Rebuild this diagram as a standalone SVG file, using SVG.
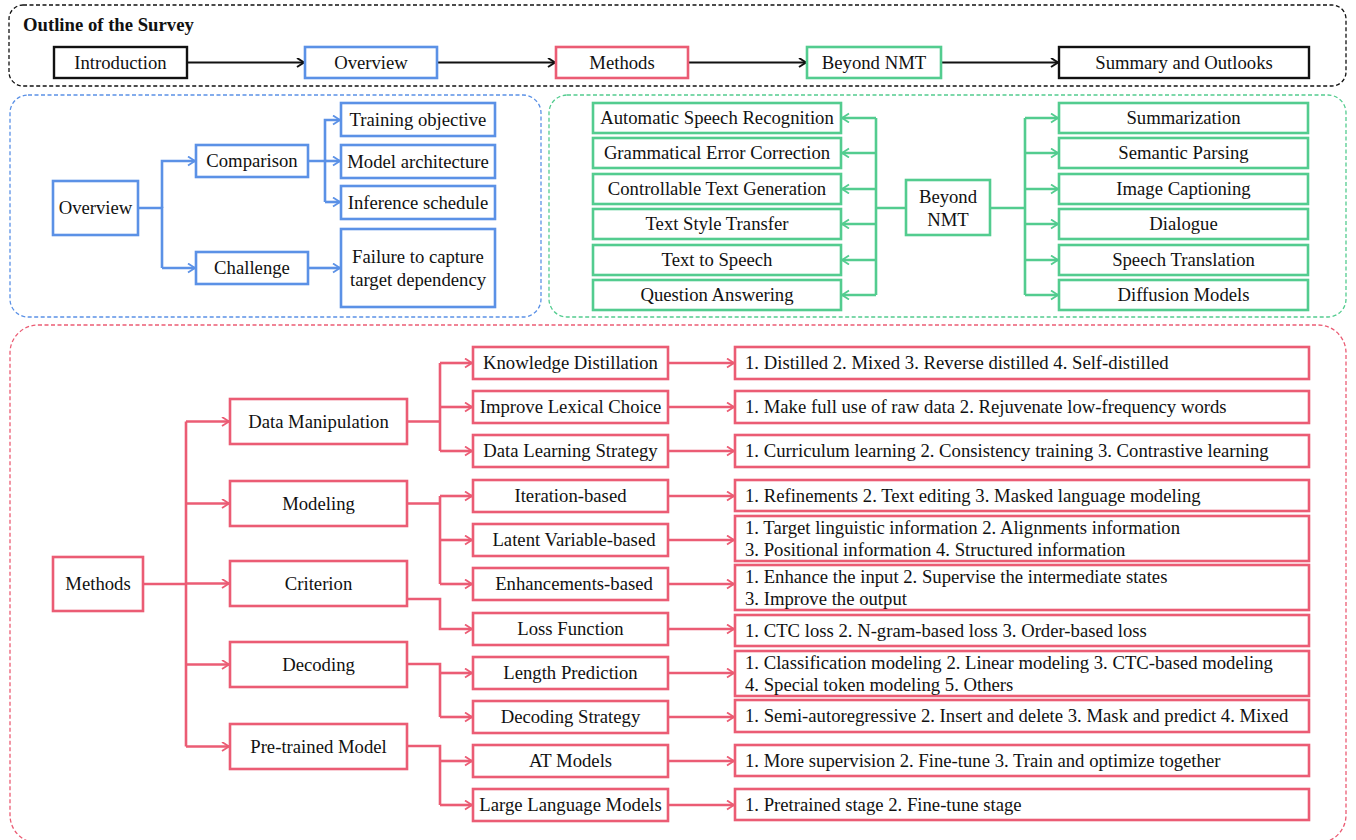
<svg xmlns="http://www.w3.org/2000/svg" width="1356" height="840" viewBox="0 0 1356 840">
<style>
text{font-family:"Liberation Serif","Times New Roman",serif;font-size:18.7px;fill:#111}
.t{font-weight:bold}
.m{text-anchor:middle}
.reg{fill:none;stroke-width:1.3;stroke-dasharray:4 2.5}
.k{fill:#fff;stroke:#111;stroke-width:2.4}
.b{fill:#fff;stroke:#5b91e6;stroke-width:2.6}
.g{fill:#fff;stroke:#53cc8f;stroke-width:2.6}
.p{fill:#fff;stroke:#eb5c74;stroke-width:2.6}
.ck{fill:none;stroke:#111;stroke-width:2.2;marker-end:url(#ak)}
.cb{fill:none;stroke:#5b91e6;stroke-width:2.6}
.cg{fill:none;stroke:#53cc8f;stroke-width:2.6}
.cp{fill:none;stroke:#eb5c74;stroke-width:2.6}
.ab{marker-end:url(#ab)}
.ag{marker-end:url(#ag)}
.ap{marker-end:url(#ap)}
</style>
<defs>
<marker id="ak" markerUnits="userSpaceOnUse" markerWidth="12" markerHeight="12" refX="9" refY="5" orient="auto"><path d="M2,0.5 L9,5 L2,9.5" fill="none" stroke="#111" stroke-width="2"/></marker>
<marker id="ab" markerUnits="userSpaceOnUse" markerWidth="12" markerHeight="12" refX="9" refY="5" orient="auto"><path d="M2,0.5 L9,5 L2,9.5" fill="none" stroke="#5b91e6" stroke-width="1.8"/></marker>
<marker id="ag" markerUnits="userSpaceOnUse" markerWidth="12" markerHeight="12" refX="9" refY="5" orient="auto"><path d="M2,0.5 L9,5 L2,9.5" fill="none" stroke="#53cc8f" stroke-width="1.8"/></marker>
<marker id="ap" markerUnits="userSpaceOnUse" markerWidth="12" markerHeight="12" refX="9" refY="5" orient="auto"><path d="M2,0.5 L9,5 L2,9.5" fill="none" stroke="#eb5c74" stroke-width="1.8"/></marker>
</defs>
<rect width="1356" height="840" fill="#fff"/>

<g id="regions">
<rect class="reg" x="9" y="5" width="1337" height="81" rx="14" stroke="#111"/>
<rect class="reg" x="10" y="95" width="531" height="222" rx="18" stroke="#5b91e6"/>
<rect class="reg" x="549" y="95" width="797" height="222" rx="18" stroke="#53cc8f"/>
<rect class="reg" x="10" y="325" width="1336" height="518" rx="28" stroke="#eb5c74"/>
</g>
<text class="t" x="23" y="31">Outline of the Survey</text>

<g id="connectors">
<path class="ck" d="M187,62.5 H304"/>
<path class="ck" d="M437,62.5 H555"/>
<path class="ck" d="M688,62.5 H806"/>
<path class="ck" d="M941,62.5 H1058"/>

<path class="cb" d="M138,208 H162 V268"/>
<path class="cb ab" d="M162,208 V161 H195"/>
<path class="cb ab" d="M162,268 H195"/>
<path class="cb" d="M308,161 H325 V202"/>
<path class="cb ab" d="M325,161 V120 H340"/>
<path class="cb ab" d="M325,161 H340"/>
<path class="cb ab" d="M325,202 H340"/>
<path class="cb ab" d="M308,268 H340"/>

<path class="cg" d="M906,208 H876 M876,118 V295 M990,208 H1025 M1025,118 V295"/>
<path class="cg ag" d="M876,118 H842"/>
<path class="cg ag" d="M876,153 H842"/>
<path class="cg ag" d="M876,189 H842"/>
<path class="cg ag" d="M876,224 H842"/>
<path class="cg ag" d="M876,260 H842"/>
<path class="cg ag" d="M876,295 H842"/>
<path class="cg ag" d="M1025,118 H1058"/>
<path class="cg ag" d="M1025,153 H1058"/>
<path class="cg ag" d="M1025,189 H1058"/>
<path class="cg ag" d="M1025,224 H1058"/>
<path class="cg ag" d="M1025,260 H1058"/>
<path class="cg ag" d="M1025,295 H1058"/>

<path class="cp" d="M143,584 H186 M186,421.5 V746.5"/>
<path class="cp ap" d="M186,421.5 H229"/>
<path class="cp ap" d="M186,503.5 H229"/>
<path class="cp ap" d="M186,583.5 H229"/>
<path class="cp ap" d="M186,664.5 H229"/>
<path class="cp ap" d="M186,746.5 H229"/>

<path class="cp" d="M407,421.5 H440 M440,363 V451"/>
<path class="cp ap" d="M440,363 H472"/>
<path class="cp ap" d="M440,407 H472"/>
<path class="cp ap" d="M440,451 H472"/>
<path class="cp" d="M407,503.5 H440 M440,496 V584"/>
<path class="cp ap" d="M440,496 H472"/>
<path class="cp ap" d="M440,540 H472"/>
<path class="cp ap" d="M440,584 H472"/>
<path class="cp ap" d="M407,599 H440 V629 H472"/>
<path class="cp" d="M407,664 H440 V717"/>
<path class="cp ap" d="M440,673 H472"/>
<path class="cp ap" d="M440,717 H472"/>
<path class="cp" d="M407,746 H440 V805"/>
<path class="cp ap" d="M440,761 H472"/>
<path class="cp ap" d="M440,805 H472"/>

<path class="cp ap" d="M668,363 H734"/>
<path class="cp ap" d="M668,407 H734"/>
<path class="cp ap" d="M668,451 H734"/>
<path class="cp ap" d="M668,496 H734"/>
<path class="cp ap" d="M668,540 H734"/>
<path class="cp ap" d="M668,584 H734"/>
<path class="cp ap" d="M668,629 H734"/>
<path class="cp ap" d="M668,673 H734"/>
<path class="cp ap" d="M668,717 H734"/>
<path class="cp ap" d="M668,761 H734"/>
<path class="cp ap" d="M668,805 H734"/>
</g>

<g id="n-introduction"><rect class="k" x="54" y="47" width="133" height="31"/><text class="m" x="120.5" y="69">Introduction</text></g>
<g id="n-overview-top"><rect class="b" x="305" y="47" width="132" height="31"/><text class="m" x="371" y="69">Overview</text></g>
<g id="n-methods-top"><rect class="p" x="556" y="47" width="132" height="31"/><text class="m" x="622" y="69">Methods</text></g>
<g id="n-beyond-top"><rect class="g" x="807" y="47" width="134" height="31"/><text class="m" x="874" y="69">Beyond NMT</text></g>
<g id="n-summary"><rect class="k" x="1059" y="47" width="250" height="31"/><text class="m" x="1184" y="69">Summary and Outlooks</text></g>

<g id="n-overview"><rect class="b" x="53" y="181" width="85" height="54"/><text class="m" x="95.5" y="214">Overview</text></g>
<g id="n-comparison"><rect class="b" x="196" y="145" width="112" height="32"/><text class="m" x="252" y="167">Comparison</text></g>
<g id="n-challenge"><rect class="b" x="196" y="252" width="112" height="32"/><text class="m" x="252" y="274">Challenge</text></g>
<g id="n-training"><rect class="b" x="341" y="103" width="154" height="33"/><text class="m" x="418" y="126">Training objective</text></g>
<g id="n-model"><rect class="b" x="341" y="145" width="154" height="33"/><text class="m" x="418" y="168">Model architecture</text></g>
<g id="n-inference"><rect class="b" x="341" y="186" width="154" height="33"/><text class="m" x="418" y="209">Inference schedule</text></g>
<g id="n-failure"><rect class="b" x="341" y="229" width="154" height="78"/><text class="m" x="418" y="263">Failure to capture</text><text class="m" x="418" y="286">target dependency</text></g>

<g id="n-asr"><rect class="g" x="593" y="103" width="248" height="30"/><text class="m" x="717" y="124">Automatic Speech Recognition</text></g>
<g id="n-gec"><rect class="g" x="593" y="138" width="248" height="30"/><text class="m" x="717" y="159">Grammatical Error Correction</text></g>
<g id="n-ctg"><rect class="g" x="593" y="174" width="248" height="30"/><text class="m" x="717" y="195">Controllable Text Generation</text></g>
<g id="n-tst"><rect class="g" x="593" y="209" width="248" height="30"/><text class="m" x="717" y="230">Text Style Transfer</text></g>
<g id="n-tts"><rect class="g" x="593" y="245" width="248" height="30"/><text class="m" x="717" y="266">Text to Speech</text></g>
<g id="n-qa"><rect class="g" x="593" y="280" width="248" height="30"/><text class="m" x="717" y="301">Question Answering</text></g>
<g id="n-beyond"><rect class="g" x="906" y="180" width="84" height="55"/><text class="m" x="948" y="203">Beyond</text><text class="m" x="948" y="226">NMT</text></g>
<g id="n-sum"><rect class="g" x="1059" y="103" width="249" height="30"/><text class="m" x="1183.5" y="124">Summarization</text></g>
<g id="n-sp"><rect class="g" x="1059" y="138" width="249" height="30"/><text class="m" x="1183.5" y="159">Semantic Parsing</text></g>
<g id="n-ic"><rect class="g" x="1059" y="174" width="249" height="30"/><text class="m" x="1183.5" y="195">Image Captioning</text></g>
<g id="n-dia"><rect class="g" x="1059" y="209" width="249" height="30"/><text class="m" x="1183.5" y="230">Dialogue</text></g>
<g id="n-st"><rect class="g" x="1059" y="245" width="249" height="30"/><text class="m" x="1183.5" y="266">Speech Translation</text></g>
<g id="n-dm2"><rect class="g" x="1059" y="280" width="249" height="30"/><text class="m" x="1183.5" y="301">Diffusion Models</text></g>

<g id="n-methods"><rect class="p" x="53" y="557" width="90" height="54"/><text class="m" x="98" y="590">Methods</text></g>
<g id="n-datamanip"><rect class="p" x="230" y="399" width="177" height="45"/><text class="m" x="318.5" y="428">Data Manipulation</text></g>
<g id="n-modeling"><rect class="p" x="230" y="481" width="177" height="45"/><text class="m" x="318.5" y="510">Modeling</text></g>
<g id="n-criterion"><rect class="p" x="230" y="561" width="177" height="45"/><text class="m" x="318.5" y="590">Criterion</text></g>
<g id="n-decoding"><rect class="p" x="230" y="642" width="177" height="45"/><text class="m" x="318.5" y="671">Decoding</text></g>
<g id="n-pretrained"><rect class="p" x="230" y="724" width="177" height="45"/><text class="m" x="318.5" y="753">Pre-trained Model</text></g>

<g id="n-kd"><rect class="p" x="473" y="347" width="195" height="32"/><text class="m" x="570.5" y="369">Knowledge Distillation</text></g>
<g id="n-ilc"><rect class="p" x="473" y="391" width="195" height="32"/><text class="m" x="570.5" y="413">Improve Lexical Choice</text></g>
<g id="n-dls"><rect class="p" x="473" y="435" width="195" height="32"/><text class="m" x="570.5" y="457">Data Learning Strategy</text></g>
<g id="n-iter"><rect class="p" x="473" y="480" width="195" height="32"/><text class="m" x="570.5" y="502">Iteration-based</text></g>
<g id="n-latent"><rect class="p" x="473" y="524" width="195" height="32"/><text class="m" x="574" y="546">Latent Variable-based</text></g>
<g id="n-enh"><rect class="p" x="473" y="568" width="195" height="32"/><text class="m" x="574" y="590">Enhancements-based</text></g>
<g id="n-loss"><rect class="p" x="473" y="613" width="195" height="32"/><text class="m" x="570.5" y="635">Loss Function</text></g>
<g id="n-len"><rect class="p" x="473" y="657" width="195" height="32"/><text class="m" x="570.5" y="679">Length Prediction</text></g>
<g id="n-ds"><rect class="p" x="473" y="701" width="195" height="32"/><text class="m" x="570.5" y="723">Decoding Strategy</text></g>
<g id="n-at"><rect class="p" x="473" y="745" width="195" height="32"/><text class="m" x="570.5" y="767">AT Models</text></g>
<g id="n-llm"><rect class="p" x="473" y="789" width="195" height="32"/><text class="m" x="570.5" y="811">Large Language Models</text></g>

<g id="n-kd-d"><rect class="p" x="735" y="347" width="574" height="32"/><text x="745" y="369">1. Distilled 2. Mixed 3. Reverse distilled 4. Self-distilled</text></g>
<g id="n-ilc-d"><rect class="p" x="735" y="391" width="574" height="32"/><text x="745" y="413">1. Make full use of raw data 2. Rejuvenate low-frequency words</text></g>
<g id="n-dls-d"><rect class="p" x="735" y="435" width="574" height="32"/><text x="745" y="457">1. Curriculum learning 2. Consistency training 3. Contrastive learning</text></g>
<g id="n-iter-d"><rect class="p" x="735" y="480" width="574" height="31"/><text x="745" y="502">1. Refinements 2. Text editing 3. Masked language modeling</text></g>
<g id="n-latent-d"><rect class="p" x="735" y="516" width="574" height="45"/><text x="745" y="534">1. Target linguistic information 2. Alignments information</text><text x="745" y="556">3. Positional information 4. Structured information</text></g>
<g id="n-enh-d"><rect class="p" x="735" y="565" width="574" height="45"/><text x="745" y="583">1. Enhance the input 2. Supervise the intermediate states</text><text x="745" y="605">3. Improve the output</text></g>
<g id="n-loss-d"><rect class="p" x="735" y="615" width="574" height="31"/><text x="745" y="637">1. CTC loss 2. N-gram-based loss 3. Order-based loss</text></g>
<g id="n-len-d"><rect class="p" x="735" y="651" width="574" height="45"/><text x="745" y="669">1. Classification modeling 2. Linear modeling 3. CTC-based modeling</text><text x="745" y="691">4. Special token modeling 5. Others</text></g>
<g id="n-ds-d"><rect class="p" x="735" y="700" width="574" height="32"/><text x="745" y="722">1. Semi-autoregressive 2. Insert and delete 3. Mask and predict 4. Mixed</text></g>
<g id="n-at-d"><rect class="p" x="735" y="745" width="574" height="31"/><text x="745" y="767">1. More supervision 2. Fine-tune 3. Train and optimize together</text></g>
<g id="n-llm-d"><rect class="p" x="735" y="789" width="574" height="31"/><text x="745" y="811">1. Pretrained stage 2. Fine-tune stage</text></g>
</svg>
